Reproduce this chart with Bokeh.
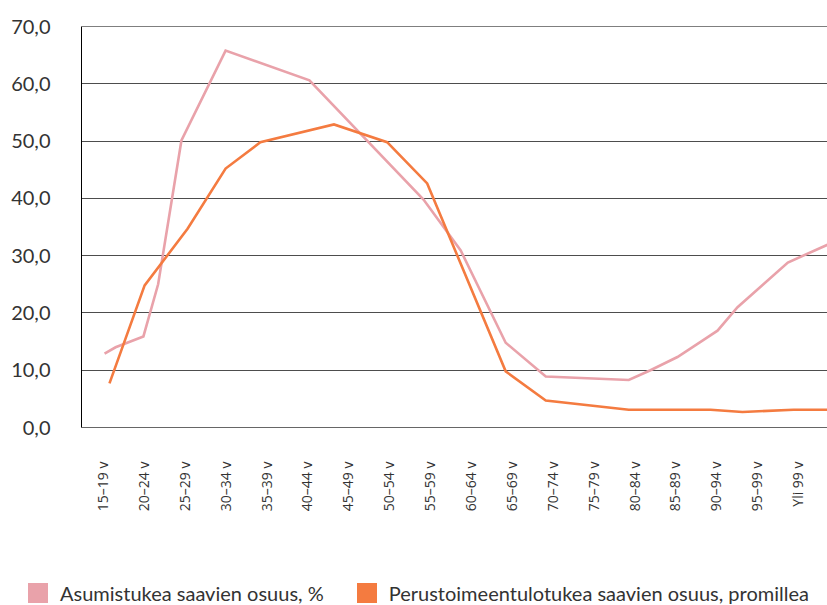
import math
from bokeh.plotting import figure
from bokeh.models import (ColumnDataSource, FixedTicker, Legend, LegendItem,
                          Span, Range1d)
from bokeh.embed import file_html
from bokeh.resources import INLINE

# ---- data -------------------------------------------------------------
age_labels = ["15–19 v", "20–24 v", "25–29 v", "30–34 v", "35–39 v",
              "40–44 v", "45–49 v", "50–54 v", "55–59 v", "60–64 v",
              "65–69 v", "70–74 v", "75–79 v", "80–84 v", "85–89 v",
              "90–94 v", "95–99 v", "Yli 99 v"]

y_ticks = [0, 10, 20, 30, 40, 50, 60, 70]
y_tick_labels = ["0,0", "10,0", "20,0", "30,0", "40,0", "50,0", "60,0", "70,0"]

# position along the age axis (category index)
asumis_x = [0.05, 0.32, 1.0, 1.36, 1.93, 3.01, 5.06, 7.85, 8.76, 9.86,
            10.84, 12.87, 13.40, 14.06, 14.70, 15.04, 15.53, 16.76, 17.73]
asumis_y = [12.9, 14.0, 15.9, 25.0, 50.1, 65.8, 60.6, 39.8, 30.9, 14.8,
            8.9, 8.3, 10.0, 12.3, 15.3, 16.9, 21.0, 28.8, 31.9]

perus_x = [0.17, 1.03, 2.08, 3.01, 3.86, 5.66, 6.96, 7.94, 9.86, 10.84,
           12.87, 14.87, 15.65, 16.9, 17.73]
perus_y = [7.7, 24.8, 34.7, 45.2, 49.8, 52.9, 49.8, 42.6, 9.8, 4.7,
           3.1, 3.1, 2.7, 3.1, 3.1]

series_names = ["Asumistukea saavien osuus, %",
                "Perustoimeentulotukea saavien osuus, promillea"]

PINK = "#E9A2AA"
ORANGE = "#F47B40"
TEXT = "#333333"

# ---- main chart ---------------------------------------------------------
p = figure(width=827, height=570,
           x_range=Range1d(-0.514, 17.73), y_range=Range1d(0, 70),
           output_backend="svg", toolbar_location=None,
           min_border_left=81, min_border_right=0,
           min_border_top=26, min_border_bottom=143)
p.outline_line_color = None
p.background_fill_color = "white"
p.border_fill_color = "white"

# y axis
p.yaxis.ticker = FixedTicker(ticks=y_ticks)
p.yaxis.major_label_overrides = {t: l for t, l in zip(y_ticks, y_tick_labels)}
p.yaxis.major_label_text_font = "Lato"
p.yaxis.major_label_text_font_size = "20px"
p.yaxis.major_label_text_color = TEXT
p.yaxis.axis_line_color = "black"
p.yaxis.axis_line_width = 1
p.yaxis.major_tick_line_color = None
p.yaxis.minor_tick_line_color = None
p.yaxis.major_tick_out = 0
p.yaxis.major_label_standoff = 31

# x axis
x_ticks = list(range(len(age_labels)))
p.xaxis.ticker = FixedTicker(ticks=x_ticks)
p.xaxis.major_label_overrides = {t: l for t, l in zip(x_ticks, age_labels)}
p.xaxis.major_label_orientation = math.pi / 2
p.xaxis.major_label_text_font = "Open Sans"
p.xaxis.major_label_text_font_size = "14px"
p.xaxis.major_label_text_color = TEXT
p.xaxis.axis_line_color = "#666666"
p.xaxis.major_tick_line_color = None
p.xaxis.minor_tick_line_color = None
p.xaxis.major_tick_out = 0
p.xaxis.major_label_standoff = 34

# grid
p.xgrid.visible = False
p.ygrid.ticker = FixedTicker(ticks=y_ticks)
p.ygrid.grid_line_color = "#4d4d4d"
p.ygrid.grid_line_width = 1.2

p.add_layout(Span(location=70, dimension="width", line_color="black",
                  line_width=1.2))

# lines
src_a = ColumnDataSource(dict(x=asumis_x, y=asumis_y))
src_p = ColumnDataSource(dict(x=perus_x, y=perus_y))
p.line("x", "y", source=src_a, line_color=PINK, line_width=2.6,
       line_join="miter")
p.line("x", "y", source=src_p, line_color=ORANGE, line_width=2.6,
       line_join="miter")

# ---- legend strip (separate root, so its frame spans the full width) ----
lg = figure(width=827, height=35, x_range=Range1d(0, 1), y_range=Range1d(0, 1),
            output_backend="svg", toolbar_location=None,
            x_axis_type=None, y_axis_type=None,
            min_border_left=0, min_border_right=0,
            min_border_top=0, min_border_bottom=0)
lg.outline_line_color = None
lg.xgrid.visible = False
lg.ygrid.visible = False

nan = float("nan")
r1 = lg.quad(left=[nan], right=[nan], top=[nan], bottom=[nan],
             fill_color=PINK, line_color=None)
r2 = lg.quad(left=[nan], right=[nan], top=[nan], bottom=[nan],
             fill_color=ORANGE, line_color=None)
legend = Legend(items=[LegendItem(label=series_names[0], renderers=[r1]),
                       LegendItem(label=series_names[1], renderers=[r2])],
                orientation="horizontal", location=(25, 0),
                glyph_width=25, glyph_height=25, label_standoff=10,
                spacing=30, padding=0, margin=0,
                border_line_color=None, background_fill_alpha=0,
                label_text_font="Lato", label_text_font_size="20px",
                label_text_color=TEXT)
lg.add_layout(legend)

open("out.html", "w").write(file_html([p, lg], INLINE))
